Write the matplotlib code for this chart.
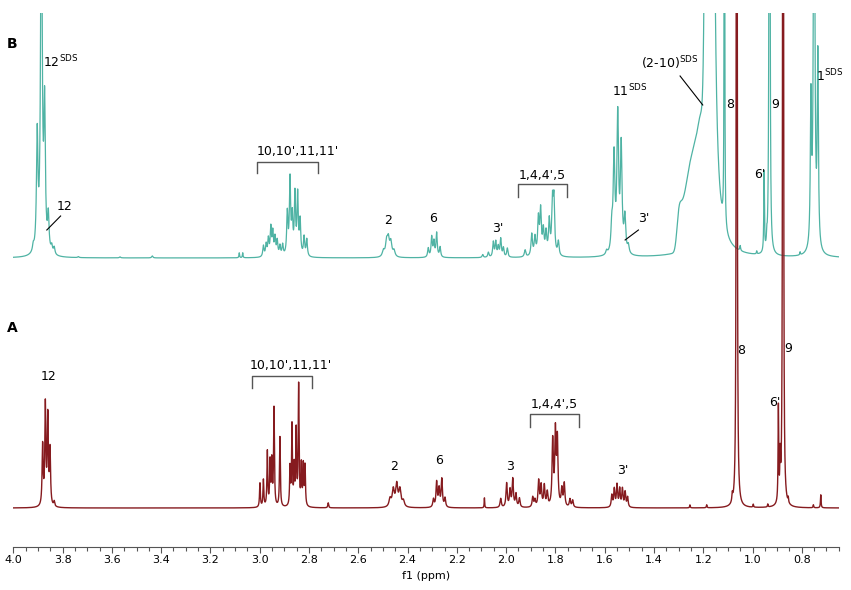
import numpy as np
import matplotlib.pyplot as plt
from matplotlib.ticker import MultipleLocator, FormatStrFormatter

# chemical shift axis (ppm), high field on the right
ppm = np.linspace(4.0, 0.649, 24000)

# --- spectrum A (red): peak centre [ppm], height, half width [ppm]
a_pos = [3.881, 3.870, 3.860, 3.851, 3.834,
         2.999, 2.985, 2.969, 2.958, 2.951, 2.942, 2.918, 2.877, 2.869, 2.860,
         2.852, 2.842, 2.831, 2.823, 2.816, 2.722,
         2.471, 2.458, 2.444, 2.431, 2.417,
         2.295, 2.282, 2.272, 2.261, 2.248, 2.088,
         2.022, 1.998, 1.984, 1.973, 1.960, 1.946,
         1.892, 1.883, 1.868, 1.858, 1.845, 1.833, 1.811, 1.800, 1.792, 1.774,
         1.764, 1.741, 1.730,
         1.571, 1.561, 1.550, 1.539, 1.528, 1.517, 1.507,
         1.254, 1.186, 1.082, 1.064, 0.997, 0.938,
         0.895, 0.888, 0.876, 0.855, 0.753, 0.723]
a_height = [60, 100, 88, 55, 5,
            24, 27, 55, 44, 44, 98, 70, 38, 80, 38,
            74, 120, 40, 40, 40, 5,
            8, 17, 22, 17, 6,
            8, 25, 18, 28, 9, 10,
            9, 24, 17, 28, 13, 9,
            10, 7, 26, 21, 21, 14, 65, 72, 65, 17,
            23, 8, 7,
            12, 18, 22, 18, 18, 15, 10,
            3, 3, 8, 6000, 3, 3,
            95, 40, 6000, 5, 3, 13]
a_width = [0.0025] * 5 + [0.002] * 16 + [0.005] * 5 + [0.003] * 5 + [0.0012] \
    + [0.003] * 6 + [0.003] * 13 + [0.0028] * 7 \
    + [0.0015, 0.0015, 0.002, 0.0007, 0.0015, 0.0015,
       0.0015, 0.0015, 0.0007, 0.0015, 0.0015, 0.0015]

# --- spectrum B (teal), PDC + SDS
b_pos = [3.919, 3.903, 3.886, 3.873, 3.858, 3.844, 3.834,
         3.736, 3.567, 3.436, 3.083, 3.069,
         2.985, 2.974, 2.965, 2.955, 2.947, 2.938, 2.929, 2.918, 2.907, 2.888,
         2.877, 2.868, 2.857, 2.846, 2.836, 2.820, 2.809,
         2.498, 2.485, 2.478, 2.468, 2.455,
         2.316, 2.302, 2.293, 2.282, 2.268,
         2.095, 2.072, 2.052, 2.042, 2.032, 2.022, 2.011, 1.995,
         1.923, 1.896, 1.883, 1.869, 1.860, 1.849, 1.838, 1.825, 1.812, 1.806, 1.788,
         1.592, 1.571, 1.562, 1.547, 1.533, 1.518, 1.504,
         1.192, 1.170, 1.114, 1.050, 0.983,
         0.953, 0.942, 0.931, 0.807,
         0.763, 0.750, 0.735]
b_height = [6, 115, 420, 140, 35, 7, 7,
            1, 1, 2, 5, 5,
            11, 12, 17, 28, 23, 18, 15, 10, 11, 42,
            75, 36, 60, 60, 34, 19, 17,
            6, 14, 16, 14, 6,
            9, 20, 15, 24, 10,
            3, 5, 15, 15, 10, 18, 9, 9,
            7, 22, 18, 36, 44, 24, 22, 34, 50, 52, 14,
            4, 25, 95, 135, 105, 35, 8,
            250, 5000, 5000, 5, 3,
            80, 10, 5000, 3,
            145, 600, 190]
b_width = [0.0035] * 7 + [0.003] * 3 + [0.0015] * 2 + [0.003] * 17 \
    + [0.005] * 5 + [0.003] * 5 + [0.003] * 8 + [0.0035] * 11 + [0.004] * 7 \
    + [0.005, 0.0044, 0.0004, 0.002, 0.0015,
       0.0015, 0.0015, 0.0007, 0.0015,
       0.0028, 0.0028, 0.0028]

# broad SDS methylene envelope (overlapping Gaussian components)
b_broad_pos = [1.30, 1.29, 1.28, 1.27, 1.26, 1.25, 1.24, 1.23, 1.22, 1.21]
b_broad_height = [30, 23, 25, 30, 38, 42, 44, 45, 44, 45]
b_broad_sigma = 0.008

b_offset = 250


def lorentz_sum(x, pos, height, width):
    y = np.zeros_like(x)
    for p, h, w in zip(pos, height, width):
        y += h / (1 + ((x - p) / w) ** 2)
    return y


spec_a = lorentz_sum(ppm, a_pos, a_height, a_width)
spec_b = lorentz_sum(ppm, b_pos, b_height, b_width)
for p, h in zip(b_broad_pos, b_broad_height):
    spec_b += h * np.exp(-0.5 * ((ppm - p) / b_broad_sigma) ** 2)

fig = plt.figure(figsize=(8.51, 5.90), dpi=100)
ax = fig.add_axes([13.3 / 851, 43 / 590, 825.7 / 851, 534 / 590])

ax.plot(ppm, spec_b + b_offset, color='#4fb3a4', lw=0.9, zorder=2)
ax.plot(ppm, spec_a, color='#861b1f', lw=1.0, zorder=3)

ax.set_xlim(4.0, 0.649)
ax.set_ylim(-39, 495)

for s in ['top', 'left', 'right']:
    ax.spines[s].set_visible(False)
ax.spines['bottom'].set_color('#555555')
ax.spines['bottom'].set_linewidth(0.8)
ax.set_yticks([])
ax.xaxis.set_major_locator(MultipleLocator(0.2))
ax.xaxis.set_minor_locator(MultipleLocator(0.05))
ax.xaxis.set_major_formatter(FormatStrFormatter('%.1f'))
ax.tick_params(axis='x', which='major', direction='out', length=4, width=0.8,
               color='#555555', labelsize=8, pad=2)
ax.tick_params(axis='x', which='minor', direction='out', length=3, width=0.8,
               color='#555555')
ax.set_xlabel('f1 (ppm)', fontsize=8, labelpad=-1)
ax.xaxis.set_label_coords(0.5, -0.045)

fs = 9

# panel letters
ax.text(4.026, 464, 'B', fontsize=10, fontweight='bold', ha='left', va='center')
ax.text(4.026, 180, 'A', fontsize=10, fontweight='bold', ha='left', va='center')


def bracket(x1, x2, ytop, ybot):
    ax.plot([x1, x1, x2, x2], [ybot, ytop, ytop, ybot], color='#555555', lw=1)


# labels for B
ax.text(3.879, 441, r'12$^{\mathrm{SDS}}$', fontsize=fs, ha='left', va='baseline')
ax.text(3.792, 301, '12', fontsize=fs, ha='center', va='center')
ax.plot([3.808, 3.864], [292, 278], color='black', lw=0.8)
ax.text(2.845, 357, "10,10',11,11'", fontsize=fs, ha='center', va='center')
bracket(3.010, 2.762, 346.3, 334.7)
ax.text(2.481, 288, '2', fontsize=fs, ha='center', va='center')
ax.text(2.297, 290, '6', fontsize=fs, ha='center', va='center')
ax.text(2.033, 280, "3'", fontsize=fs, ha='center', va='center')
ax.text(1.852, 333, "1,4,4',5", fontsize=fs, ha='center', va='center')
bracket(1.953, 1.754, 323.7, 311.3)
ax.text(1.571, 411.3, r'11$^{\mathrm{SDS}}$', fontsize=fs, ha='left', va='baseline')
ax.text(1.440, 289, "3'", fontsize=fs, ha='center', va='center')
ax.plot([1.463, 1.517], [278, 268], color='black', lw=0.8)
ax.text(1.454, 440, r'(2-10)$^{\mathrm{SDS}}$', fontsize=fs, ha='left', va='baseline')
ax.plot([1.294, 1.202], [432, 403], color='black', lw=0.8)
ax.text(1.091, 403, '8', fontsize=fs, ha='center', va='center')
ax.text(0.909, 403, '9', fontsize=fs, ha='center', va='center')
ax.text(0.972, 333, "6'", fontsize=fs, ha='center', va='center')
ax.text(0.743, 426.3, r'1$^{\mathrm{SDS}}$', fontsize=fs, ha='left', va='baseline')

# labels for A
ax.text(3.857, 132, '12', fontsize=fs, ha='center', va='center')
ax.text(2.873, 143, "10,10',11,11'", fontsize=fs, ha='center', va='center')
bracket(3.030, 2.787, 132, 119.7)
ax.text(2.453, 42, '2', fontsize=fs, ha='center', va='center')
ax.text(2.272, 47.5, '6', fontsize=fs, ha='center', va='center')
ax.text(1.983, 41, '3', fontsize=fs, ha='center', va='center')
ax.text(1.806, 103.5, "1,4,4',5", fontsize=fs, ha='center', va='center')
bracket(1.903, 1.705, 94, 80.7)
ax.text(1.528, 37.5, "3'", fontsize=fs, ha='center', va='center')
ax.text(1.047, 158, '8', fontsize=fs, ha='center', va='center')
ax.text(0.857, 159.5, '9', fontsize=fs, ha='center', va='center')
ax.text(0.911, 106, "6'", fontsize=fs, ha='center', va='center')

plt.savefig('out.png', dpi=100)
